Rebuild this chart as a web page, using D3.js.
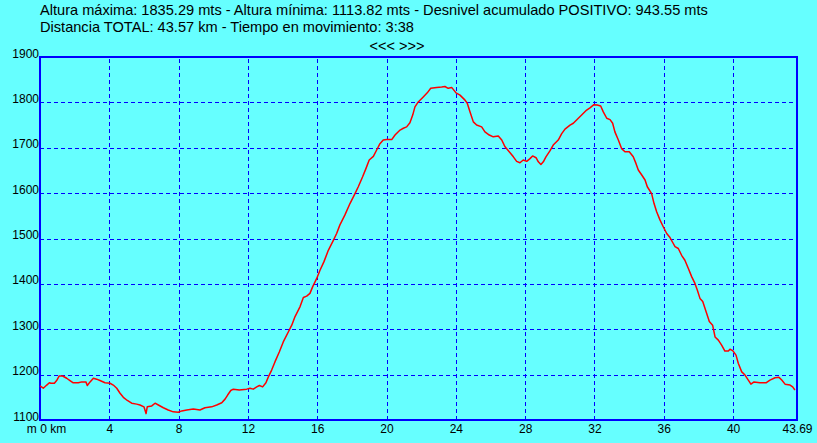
<!DOCTYPE html>
<html>
<head>
<meta charset="utf-8">
<script src="https://cdn.jsdelivr.net/npm/d3@7/dist/d3.min.js"></script>
<style>
  html, body { margin: 0; padding: 0; background: #66ffff; }
  svg { display: block; }
  text { font-family: "Liberation Sans", Arial, sans-serif; fill: #000; }
</style>
</head>
<body>
<svg id="chart" width="817" height="443"></svg>
<script>
// ---- data ----
const headerLines = [
  "Altura máxima: 1835.29 mts - Altura mínima: 1113.82 mts - Desnivel acumulado POSITIVO: 943.55 mts",
  "Distancia TOTAL: 43.57 km - Tiempo en movimiento: 3:38"
];
const navLabel = "<<< >>>";

const distanceKm = [
  0, 0.19, 0.39, 0.54, 0.63, 0.83, 0.96, 1.11, 1.31, 1.54, 1.73, 1.92, 2.21, 2.41, 2.65, 2.73, 2.89, 3.08, 3.27, 3.46, 3.75,
  4.04, 4.23, 4.43, 4.62, 4.81, 5.04, 5.29, 5.58, 5.77, 6.00, 6.12, 6.19, 6.45, 6.64, 6.83, 7.12, 7.40, 7.69, 7.98,
  8.18, 8.47, 8.85, 9.23, 9.52, 9.91, 10.20, 10.49, 10.68, 10.83, 11.01, 11.16, 11.50, 11.93,
  12.12, 12.31, 12.51, 12.66, 12.85, 13.04, 13.18, 13.37, 13.56, 13.81, 14.04, 14.33, 14.53, 14.72, 15.01, 15.20, 15.39, 15.58, 15.74, 15.97,
  16.16, 16.39, 16.64, 16.93, 17.12, 17.31, 17.60, 17.89, 18.18, 18.37, 18.62, 18.81, 19.00, 19.24, 19.43, 19.62, 19.81,
  20.01, 20.30, 20.49, 20.78, 20.97, 21.16, 21.35, 21.51, 21.64, 21.83, 22.12, 22.35, 22.55, 22.89, 23.18, 23.37, 23.56, 23.76,
  24.01, 24.24, 24.53, 24.66, 24.82, 25.01, 25.20, 25.49, 25.68, 25.93, 26.16, 26.45, 26.65, 26.84, 27.13, 27.32, 27.51, 27.70, 27.89,
  28.09, 28.28, 28.43, 28.63, 28.76, 28.91, 29.05, 29.20, 29.43, 29.62, 29.91, 30.11, 30.30, 30.59, 30.78, 31.07, 31.26, 31.55, 31.74, 31.97,
  32.16, 32.36, 32.51, 32.71, 32.90, 33.05, 33.18, 33.38, 33.57, 33.76, 34.01, 34.24, 34.40, 34.53, 34.73, 34.92, 35.05, 35.30, 35.44, 35.59, 35.78, 35.97,
  36.17, 36.36, 36.55, 36.65, 36.84, 37.03, 37.22, 37.42, 37.61, 37.80, 37.94, 38.09, 38.25, 38.44, 38.63, 38.82, 38.96, 39.15, 39.34, 39.53, 39.73, 39.82, 39.98,
  40.17, 40.30, 40.50, 40.69, 40.88, 41.03, 41.21, 41.55, 41.90, 42.13, 42.42, 42.65, 42.81, 43.00, 43.29, 43.44, 43.57
];
const elevationM = [
  1175, 1170, 1177, 1182, 1181, 1181, 1187, 1197, 1197, 1192, 1187, 1182, 1182, 1184, 1184, 1176, 1184, 1192, 1190, 1187, 1182,
  1181, 1177, 1170, 1159, 1150, 1143, 1137, 1135, 1133, 1129, 1114, 1129, 1131, 1137, 1133, 1127, 1122, 1118, 1117,
  1120, 1122, 1124, 1122, 1127, 1129, 1133, 1138, 1146, 1155, 1165, 1168, 1166, 1168,
  1170, 1168, 1173, 1176, 1173, 1182, 1195, 1210, 1228, 1250, 1272, 1294, 1309, 1328, 1350, 1370, 1373, 1379, 1394, 1412,
  1430, 1449, 1474, 1496, 1511, 1530, 1552, 1577, 1599, 1614, 1636, 1654, 1673, 1681, 1695, 1709, 1717,
  1718, 1718, 1728, 1739, 1743, 1746, 1755, 1772, 1790, 1801, 1812, 1821, 1831, 1833, 1834, 1835, 1831, 1833,
  1821, 1816, 1805, 1798, 1779, 1757, 1750, 1746, 1735, 1728, 1724, 1726, 1717, 1702, 1689, 1680, 1670, 1667, 1673,
  1670, 1676, 1682, 1678, 1669, 1663, 1669, 1680, 1693, 1706, 1717, 1731, 1741, 1750, 1754, 1765, 1772, 1783, 1788, 1795,
  1794, 1792, 1779, 1765, 1762, 1754, 1735, 1717, 1698, 1691, 1691, 1680, 1665, 1651, 1640, 1629, 1614, 1599, 1577, 1559, 1541, 1526,
  1511, 1502, 1489, 1482, 1478, 1463, 1452, 1434, 1416, 1401, 1386, 1368, 1361, 1339, 1317, 1309, 1283, 1276, 1265, 1252, 1252, 1256, 1253,
  1243, 1225, 1206, 1199, 1188, 1179, 1184, 1182, 1182, 1188, 1193, 1194, 1188, 1179, 1177, 1173, 1166
];
const xTickValues = [0, 4, 8, 12, 16, 20, 24, 28, 32, 36, 40, 43.69];
const xTickLabels = ["m 0 km", "4", "8", "12", "16", "20", "24", "28", "32", "36", "40", "43.69"];
const xGridValues = [4, 8, 12, 16, 20, 24, 28, 32, 36, 40];
const yTickValues = [1100, 1200, 1300, 1400, 1500, 1600, 1700, 1800, 1900];
const yGridValues = [1200, 1300, 1400, 1500, 1600, 1700, 1800];

// ---- layout ----
const plot = { left: 40, right: 797, top: 57, bottom: 420 };
const svg = d3.select("#chart");

svg.append("rect").attr("width", 817).attr("height", 443).attr("fill", "#66ffff");

const x = d3.scaleLinear().domain([0, 43.69]).range([plot.left, plot.right]);
const y = d3.scaleLinear().domain([1100, 1900]).range([plot.bottom, plot.top]);

// header
svg.selectAll("text.header").data(headerLines).enter().append("text")
  .attr("class", "header")
  .attr("x", 40)
  .attr("y", (d, i) => 15 + i * 17)
  .style("font-size", "14.6px")
  .text(d => d);

svg.append("text")
  .attr("x", 397).attr("y", 51)
  .attr("text-anchor", "middle")
  .style("font-size", "14.5px")
  .text(navLabel);

// grid
const gx = svg.append("g")
  .attr("transform", `translate(0,${plot.bottom})`)
  .call(d3.axisBottom(x).tickValues(xGridValues).tickSize(-(plot.bottom - plot.top)).tickFormat(""));
gx.select(".domain").remove();
gx.selectAll("line").attr("stroke", "#0000ff").attr("stroke-dasharray", "4,3").attr("shape-rendering", "crispEdges");

const gy = svg.append("g")
  .attr("transform", `translate(${plot.left},0)`)
  .call(d3.axisLeft(y).tickValues(yGridValues).tickSize(-(plot.right - plot.left)).tickFormat(""));
gy.select(".domain").remove();
gy.selectAll("line").attr("stroke", "#0000ff").attr("stroke-dasharray", "4,3").attr("shape-rendering", "crispEdges");

// frame
svg.append("rect")
  .attr("x", plot.left).attr("y", plot.top)
  .attr("width", plot.right - plot.left).attr("height", plot.bottom - plot.top)
  .attr("fill", "none").attr("stroke", "#0000ff").attr("stroke-width", 2)
  .attr("shape-rendering", "crispEdges");

// axis labels
const ax = svg.append("g")
  .attr("transform", `translate(0,${plot.bottom})`)
  .call(d3.axisBottom(x).tickValues(xTickValues).tickSize(0)
    .tickFormat((d, i) => xTickLabels[i]));
ax.select(".domain").remove();
ax.selectAll("text")
  .attr("y", 13).attr("dy", 0)
  .style("font-size", "12px")
  .style("font-family", '"Liberation Sans", Arial, sans-serif')
  .attr("fill", "#000");
ax.selectAll("text").filter((d, i) => i === 0).attr("dx", 6);

const ay = svg.append("g")
  .attr("transform", `translate(${plot.left},0)`)
  .call(d3.axisLeft(y).tickValues(yTickValues).tickSize(0).tickFormat(d3.format("d")));
ay.select(".domain").remove();
ay.selectAll("text")
  .attr("x", -1).attr("dy", 0)
  .style("font-size", "12px")
  .style("font-family", '"Liberation Sans", Arial, sans-serif')
  .attr("fill", "#000");

// profile line
const pts = distanceKm.map((d, i) => [d, elevationM[i]]);
svg.append("path")
  .datum(pts)
  .attr("fill", "none")
  .attr("stroke", "#ff0000")
  .attr("stroke-width", 1.5)
  .attr("stroke-linejoin", "round")
  .attr("d", d3.line().x(d => x(d[0])).y(d => y(d[1])));
</script>
</body>
</html>
